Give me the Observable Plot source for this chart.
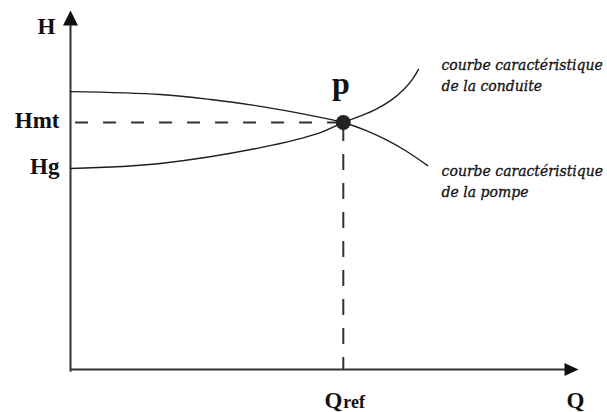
<!DOCTYPE html>
<html>
<head>
<meta charset="utf-8">
<script src="https://cdn.jsdelivr.net/npm/d3@7"></script>
<script src="https://cdn.jsdelivr.net/npm/@observablehq/plot@0.6"></script>
<style>
  html, body { margin: 0; padding: 0; background: #fff; }
</style>
</head>
<body>
<div id="chart"></div>
<script>
// ---- data (abstract units: Q along x, H along y) ----
const qMax = 10;
const hMax = 10;

// pump characteristic curve (courbe caractéristique de la pompe)
const pumpQ = [0, 1.77, 2.76, 3.74, 4.72, 5.37, 5.81, 6.20, 6.59, 7.03];
const pumpH = [7.74, 7.66, 7.52, 7.33, 7.08, 6.88, 6.66, 6.41, 6.10, 5.68];

// pipe characteristic curve (courbe caractéristique de la conduite)
const pipeQ = [0, 1.77, 3.74, 4.92, 5.37, 5.96, 6.30, 6.56, 6.73, 6.85];
const pipeH = [5.60, 5.74, 6.18, 6.60, 6.88, 7.21, 7.49, 7.80, 8.08, 8.36];

// operating point
const Qref = 5.37;
const Hmt = 6.88;
const Hg = 5.60;

// tick labels
const yTickLabels = ["Hmt", "Hg"];
const yTickValues = [Hmt, Hg];
const pointLabel = "p";
const pumpLabel = "courbe caractéristique\nde la pompe";
const pipeLabel = "courbe caractéristique\nde la conduite";

const pump = pumpQ.map((q, i) => ({q, h: pumpH[i]}));
const pipe = pipeQ.map((q, i) => ({q, h: pipeH[i]}));
const yTicks = yTickLabels.map((t, i) => ({t, h: yTickValues[i]}));

const serif = "'Liberation Serif', 'Times New Roman', serif";
const ink = "#1e1e1e";

const labelStyle = {
  textAnchor: "start", lineAnchor: "middle", lineHeight: 1.5,
  fontSize: 14, fontStyle: "italic", fontFamily: "'DejaVu Serif', serif",
  fill: "#111", stroke: "#111", strokeWidth: 0.3
};

const chart = Plot.plot({
  width: 607,
  height: 412,
  marginLeft: 70,
  marginRight: 29,
  marginTop: 10,
  marginBottom: 43,
  x: {domain: [0, qMax], axis: null},
  y: {domain: [0, hMax], axis: null},
  style: {background: "#fff", fontFamily: serif},
  marks: [
    // axes
    Plot.ruleX([0], {y1: -0.08, y2: hMax - 0.2, stroke: "#333", strokeWidth: 2}),
    Plot.ruleY([0], {x1: 0, x2: qMax - 0.15, stroke: "#333", strokeWidth: 2}),
    // filled arrowheads (tip at the end of each axis)
    Plot.vector([{q: 0, h: hMax}], {x: "q", y: "h", shape: "spike", anchor: "end",
      length: 15, r: 7.5, rotate: 0, fill: "#111", stroke: "none"}),
    Plot.vector([{q: qMax, h: 0}], {x: "q", y: "h", shape: "spike", anchor: "end",
      length: 14, r: 6.5, rotate: 90, fill: "#111", stroke: "none"}),
    // dashed guide lines
    Plot.ruleY([Hmt], {x1: 0.1, x2: Qref, stroke: "#333", strokeWidth: 2, strokeDasharray: "13 15"}),
    Plot.ruleX([Qref], {y1: 0, y2: Hmt, stroke: "#333", strokeWidth: 2, strokeDasharray: "16 13", strokeDashoffset: 4}),
    // curves
    Plot.line(pump, {x: "q", y: "h", curve: "catmull-rom", stroke: ink, strokeWidth: 1.4}),
    Plot.line(pipe, {x: "q", y: "h", curve: "catmull-rom", stroke: ink, strokeWidth: 1.4}),
    // operating point
    Plot.dot([{q: Qref, h: Hmt}], {x: "q", y: "h", r: 7.5, fill: "#222", stroke: null}),
    Plot.text([pointLabel], {x: Qref, y: Hmt, dx: -2.5, dy: -29, lineAnchor: "bottom", textAnchor: "middle",
      fontSize: 32, fontWeight: "bold", fontFamily: serif, fill: "#111"}),
    // axis labels
    Plot.text(["H"], {x: 0, y: hMax, dx: -15, dy: 16, textAnchor: "end", lineAnchor: "middle",
      fontSize: 23, fontWeight: "bold", fontFamily: serif, fill: "#111"}),
    Plot.text(yTicks, {x: 0, y: "h", text: "t", dx: -11, dy: -2, textAnchor: "end", lineAnchor: "middle",
      fontSize: 23, fontWeight: "bold", fontFamily: serif, fill: "#111"}),
    Plot.text(["Q"], {x: Qref, y: 0, dx: -1, dy: 38, textAnchor: "end", lineAnchor: "bottom",
      fontSize: 23, fontWeight: "bold", fontFamily: serif, fill: "#111"}),
    Plot.text(["ref"], {x: Qref, y: 0, dx: 0, dy: 38, textAnchor: "start", lineAnchor: "bottom",
      fontSize: 18, fontWeight: "bold", fontFamily: serif, fill: "#111"}),
    Plot.text(["Q"], {x: qMax, y: 0, dx: -3, dy: 38, textAnchor: "middle", lineAnchor: "bottom",
      fontSize: 23, fontWeight: "bold", fontFamily: serif, fill: "#111"}),
    // curve labels, anchored to the curve ends
    Plot.text([pipeLabel], {x: pipeQ[pipeQ.length - 1], y: pipeH[pipeH.length - 1], dx: 23, dy: 4.5, ...labelStyle}),
    Plot.text([pumpLabel], {x: pumpQ[pumpQ.length - 1], y: pumpH[pumpH.length - 1], dx: 14, dy: 14, ...labelStyle})
  ]
});

document.getElementById("chart").appendChild(chart);
</script>
</body>
</html>
